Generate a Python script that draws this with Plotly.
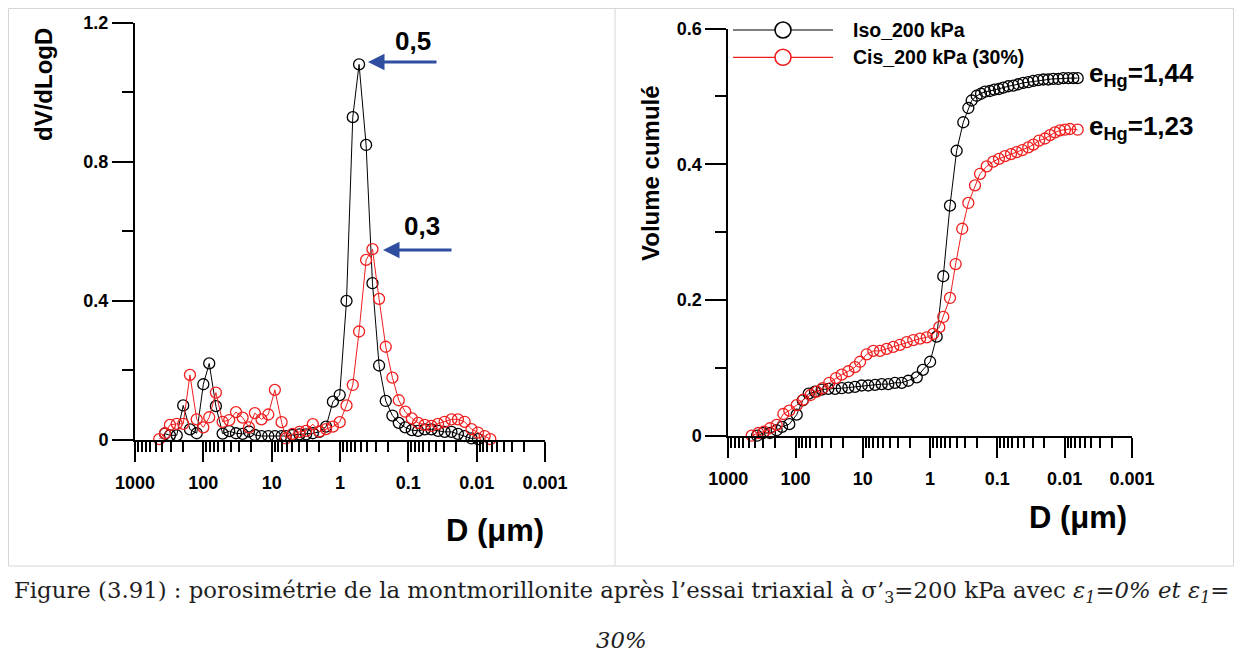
import plotly.graph_objects as go

# reference canvas (page pixels) and figure size (page minus the 8px body margin)
W, H = 1242, 661
OFF = 8
WF, HF = W - 2 * OFF, H - 2 * OFF

# ---------------- data ----------------
# Left panel : dV/dLogD versus pore diameter D (µm)
D_left = [442, 364, 308, 245, 197, 157, 125, 100, 82.0, 65.5, 52.2, 41.8, 33.3, 26.6,
          21.5, 17.6, 14.1, 11.2, 8.98, 7.16, 6.20, 4.94, 3.91, 3.13, 2.50, 2.00, 1.60,
          1.27, 1.01, 0.803, 0.650, 0.526, 0.415, 0.335, 0.268, 0.214, 0.171, 0.138,
          0.111, 0.0891, 0.0721, 0.0575, 0.0459, 0.0368, 0.0294, 0.0234, 0.0188,
          0.0150, 0.0119, 0.00957, 0.00764, 0.00631]
iso_dv = [None, 0.017, 0.012, 0.012, 0.098, 0.029, 0.018, 0.159, 0.219, 0.096, 0.017,
          0.024, 0.018, 0.016, 0.023, 0.013, 0.010, 0.010, 0.010, 0.010, 0.010, 0.013,
          0.015, 0.015, 0.018, 0.022, 0.037, 0.109, 0.128, 0.399, 0.928, 1.080, 0.848,
          0.450, 0.213, 0.111, 0.069, 0.048, 0.035, 0.027, 0.025, 0.029, 0.029, 0.025,
          0.022, 0.022, 0.016, 0.010, 0.003, 0.001, None, None]
cis_dv = [0.001, 0.018, 0.042, 0.045, 0.045, 0.186, 0.058, 0.035, 0.064, 0.135, 0.051,
          0.056, 0.079, 0.063, 0.035, 0.076, 0.058, 0.072, 0.143, 0.050, 0.003, 0.016,
          0.022, 0.025, 0.044, 0.023, 0.030, 0.037, 0.050, 0.098, 0.157, 0.311, 0.517,
          0.548, 0.405, 0.267, 0.178, 0.113, 0.080, 0.061, 0.048, 0.042, 0.039, 0.045,
          0.051, 0.058, 0.058, 0.051, 0.030, 0.020, 0.010, 0.001]

# Right panel : cumulative volume versus D (µm)
D_iso_cum = [374, 302, 240, 191, 159, 124, 96.2, 78.3, 63.8, 51.4, 40.9, 32.6, 25.9,
             20.6, 16.4, 13.1, 10.4, 8.30, 6.59, 5.25, 4.19, 3.33, 2.64, 2.11, 1.58,
             1.28, 1.00, 0.798, 0.637, 0.506, 0.403, 0.321, 0.270, 0.241, 0.203, 0.175,
             0.153, 0.129, 0.111, 0.0946, 0.0817, 0.0689, 0.0579, 0.0489, 0.0412,
             0.0347, 0.0292, 0.0247, 0.0207, 0.0175, 0.0148, 0.0124, 0.0105, 0.00883,
             0.00743, 0.00640]
iso_cum = [0.000, 0.004, 0.004, 0.008, 0.013, 0.017, 0.031, 0.052, 0.062, 0.065, 0.068,
           0.069, 0.069, 0.070, 0.071, 0.072, 0.074, 0.074, 0.075, 0.076, 0.076, 0.078,
           0.078, 0.081, 0.086, 0.097, 0.109, 0.146, 0.235, 0.339, 0.420, 0.462, 0.483,
           0.494, 0.501, 0.504, 0.507, 0.508, 0.510, 0.511, 0.513, 0.515, 0.516, 0.518,
           0.520, 0.521, 0.523, 0.524, 0.525, 0.525, 0.526, 0.526, 0.527, 0.527, 0.527,
           0.527]
D_cis_cum = [449, 358, 294, 240, 191, 152, 124, 96.2, 76.7, 59.6, 48.5, 39.5, 31.6,
             25.1, 20.6, 16.4, 13.1, 11.0, 8.77, 6.98, 5.56, 4.42, 3.52, 2.81, 2.23,
             1.78, 1.41, 1.12, 0.898, 0.730, 0.637, 0.506, 0.417, 0.333, 0.270, 0.215,
             0.181, 0.144, 0.115, 0.0946, 0.0771, 0.0627, 0.0516, 0.0426, 0.0347,
             0.0292, 0.0240, 0.0196, 0.0165, 0.0139, 0.0117, 0.00989, 0.00832, 0.00640]
cis_cum = [0.000, 0.004, 0.006, 0.011, 0.016, 0.032, 0.037, 0.045, 0.053, 0.060, 0.065,
           0.070, 0.078, 0.085, 0.090, 0.095, 0.101, 0.109, 0.120, 0.125, 0.125, 0.128,
           0.131, 0.134, 0.138, 0.141, 0.143, 0.145, 0.150, 0.160, 0.175, 0.203, 0.253,
           0.305, 0.343, 0.369, 0.386, 0.397, 0.404, 0.408, 0.412, 0.415, 0.418, 0.421,
           0.425, 0.429, 0.435, 0.438, 0.443, 0.447, 0.450, 0.451, 0.452, 0.451]

series_names = ["Iso_200 kPa", "Cis_200 kPa (30%)"]
series_colors = ["#000000", "#f01e1e"]

x_tick_vals = [1000, 100, 10, 1, 0.1, 0.01, 0.001]
x_tick_text = ["1000", "100", "10", "1", "0.1", "0.01", "0.001"]
y1_tick_vals = [0, 0.4, 0.8, 1.2]
y1_tick_text = ["0", "0.4", "0.8", "1.2"]
y1_minor = [0.2, 0.6, 1.0]
y2_tick_vals = [0, 0.2, 0.4, 0.6]
y2_tick_text = ["0", "0.2", "0.4", "0.6"]
y2_minor = [0.1, 0.3, 0.5]

peak_labels = ["0,5", "0,3"]
void_ratio_labels = ["e<sub>Hg</sub>=1,44", "e<sub>Hg</sub>=1,23"]

caption_line1 = ("Figure (3.91) : porosimétrie de la montmorillonite après l’essai triaxial à "
                 "σ’<sub>3</sub>=200 kPa avec <i>ε<sub>1</sub>=0% et ε<sub>1</sub>=</i>")
caption_line2 = "<i>30%</i>"

# ---------------- helpers ----------------
def px(x):
    return (x - OFF) / WF

def py(y):
    return 1 - (y - OFF) / HF

x_minor = [m * 10 ** e for e in range(-3, 3) for m in range(2, 10)]

SANS = "Liberation Sans, Arial, sans-serif"
TICKFONT = dict(family=SANS, size=18, color="black", weight="bold")

fig = go.Figure()

def mk(color):
    return dict(symbol="circle-open", size=11, color=color, line=dict(width=1.3, color=color))

for xs, ys, i, xa, ya in [(D_left, iso_dv, 0, "x", "y"), (D_left, cis_dv, 1, "x", "y"),
                          (D_iso_cum, iso_cum, 0, "x2", "y2"), (D_cis_cum, cis_cum, 1, "x2", "y2")]:
    fig.add_trace(go.Scatter(x=xs, y=ys, mode="lines+markers", name=series_names[i],
                             line=dict(color=series_colors[i], width=1),
                             marker=mk(series_colors[i]), cliponaxis=False,
                             xaxis=xa, yaxis=ya, showlegend=False))

def xaxis(domain, anchor):
    return dict(type="log", domain=domain, range=[3, -3], anchor=anchor, showgrid=False,
                zeroline=False, showline=True, linecolor="black", linewidth=2,
                automargin=False,
                tickmode="array", tickvals=x_tick_vals, ticktext=x_tick_text,
                ticks="outside", ticklen=20, tickwidth=1.5, tickcolor="black",
                ticklabelstandoff=6, tickfont=TICKFONT,
                minor=dict(tickmode="array", tickvals=x_minor, ticks="outside", ticklen=10,
                           tickwidth=1.5, tickcolor="black", showgrid=False))

def yaxis(domain, rng, vals, text, minor, anchor):
    return dict(domain=domain, range=rng, anchor=anchor, showgrid=False, zeroline=False,
                showline=True, linecolor="black", linewidth=2, automargin=False,
                tickmode="array", tickvals=vals, ticktext=text,
                ticks="outside", ticklen=21, tickwidth=1.5, tickcolor="black",
                tickfont=TICKFONT,
                minor=dict(tickmode="array", tickvals=minor, ticks="outside", ticklen=11,
                           tickwidth=1.5, tickcolor="black", showgrid=False))

fig.update_layout(
    width=WF, height=HF, margin=dict(l=0, r=0, t=0, b=0, pad=0, autoexpand=False),
    paper_bgcolor="white", plot_bgcolor="rgba(0,0,0,0)", showlegend=False,
    xaxis=xaxis([px(135), px(545)], "y"),
    yaxis=yaxis([py(439.5), py(22.7)], [0, 1.2], y1_tick_vals, y1_tick_text, y1_minor, "x"),
    xaxis2=xaxis([px(728.3), px(1131.9)], "y2"),
    yaxis2=yaxis([py(435.7), py(28.6)], [0, 0.6], y2_tick_vals, y2_tick_text, y2_minor, "x2"),
)

shapes = []
anns = []
GRID = "#d6d6d6"

def hline(y, x0, x1, color=GRID, width=1):
    return dict(type="line", xref="paper", yref="paper", x0=px(x0), x1=px(x1),
                y0=py(y), y1=py(y), line=dict(color=color, width=width))

def vline(x, y0, y1, color=GRID, width=1):
    return dict(type="line", xref="paper", yref="paper", x0=px(x), x1=px(x),
                y0=py(y0), y1=py(y1), line=dict(color=color, width=width))

# table cell borders
shapes += [hline(8.5, 8.5, 1233.5), hline(566, 8.5, 1233.5),
           vline(8.5, 8.5, 566), vline(615, 8.5, 566), vline(1233.5, 8.5, 566)]

# legend (drawn)
LEGFONT = dict(family=SANS, size=19.5, color="black", weight="bold")
for i, yy in enumerate([30, 57.3]):
    c = series_colors[i]
    shapes.append(hline(yy, 733, 833, color=c, width=1.2))
    shapes.append(dict(type="circle", xref="paper", yref="paper", x0=px(775), x1=px(791),
                       y0=py(yy + 8), y1=py(yy - 8), line=dict(color=c, width=1.6),
                       fillcolor="white"))
    anns.append(dict(xref="paper", yref="paper", x=px(851), y=py(yy), xanchor="left",
                     yanchor="middle", showarrow=False, text=series_names[i], font=LEGFONT))

# axis titles
TITLE = dict(family=SANS, size=24, color="black", weight="bold")
anns.append(dict(xref="paper", yref="paper", x=px(43), y=py(85), textangle=-90, showarrow=False,
                 text="dV/dLogD", font=TITLE, xanchor="center", yanchor="middle"))
anns.append(dict(xref="paper", yref="paper", x=px(650), y=py(173), textangle=-90, showarrow=False,
                 text="Volume cumulé", font=TITLE, xanchor="center", yanchor="middle"))
XT = dict(family=SANS, size=31, color="black", weight="bold")
anns.append(dict(xref="paper", yref="paper", x=px(495), y=py(530), showarrow=False,
                 text="D (μm)", font=XT, xanchor="center", yanchor="middle"))
anns.append(dict(xref="paper", yref="paper", x=px(1078), y=py(517), showarrow=False,
                 text="D (μm)", font=XT, xanchor="center", yanchor="middle"))

# peak labels and arrows
ARROW = "#2f4ea0"
for lab, (tx, ty), (ax0, ay0, ax1) in zip(peak_labels, [(413, 41), (422, 226)],
                                          [(368, 62, 438), (383, 250, 453)]):
    anns.append(dict(xref="paper", yref="paper", x=px(tx), y=py(ty), showarrow=False, text=lab,
                     xanchor="center", yanchor="middle",
                     font=dict(family=SANS, size=26, color="black", weight="bold")))
    anns.append(dict(xref="paper", yref="paper", x=px(ax0), y=py(ay0), ax=ax1 - ax0, ay=0,
                     text="", showarrow=True, arrowhead=2, arrowsize=1.1, arrowwidth=3,
                     arrowcolor=ARROW))

# void ratio labels
for lab, yy in zip(void_ratio_labels, [74, 127]):
    anns.append(dict(xref="paper", yref="paper", x=px(1087), y=py(yy), showarrow=False, text=lab,
                     xanchor="left", yanchor="middle",
                     font=dict(family=SANS, size=26, color="black", weight="bold")))

# caption
CAP = dict(family="DejaVu Serif, serif", size=22.8, color="#1e1e1e")
anns.append(dict(xref="paper", yref="paper", x=px(621), y=py(592), showarrow=False,
                 text=caption_line1, font=CAP, xanchor="center", yanchor="middle"))
anns.append(dict(xref="paper", yref="paper", x=px(621), y=py(640), showarrow=False,
                 text=caption_line2, font=CAP, xanchor="center", yanchor="middle"))

fig.update_layout(shapes=shapes, annotations=anns)

fig.write_html("out.html", config={"displayModeBar": False})
